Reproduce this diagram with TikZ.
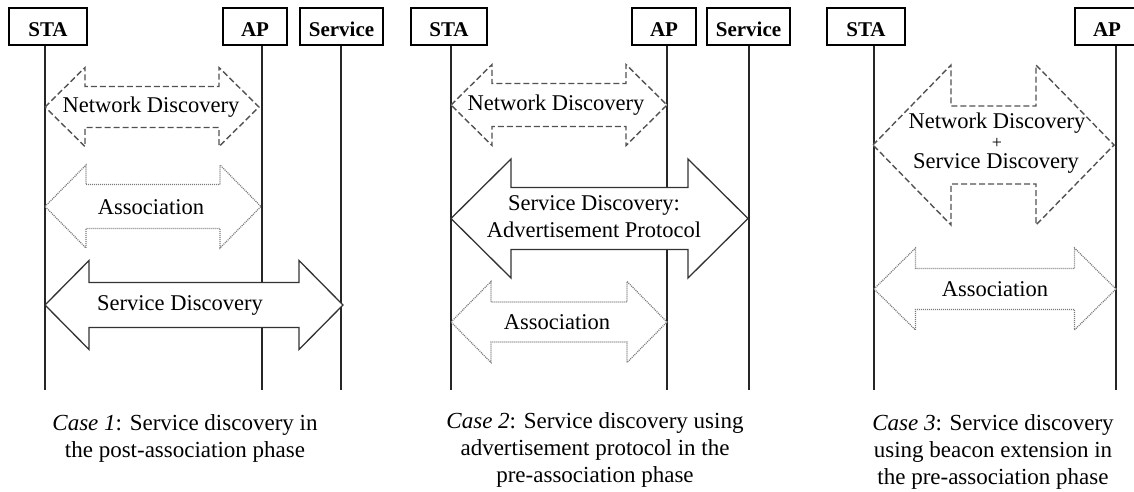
\documentclass[tikz,border=0pt]{standalone}
\usepackage{fontspec}
\setmainfont{Liberation Serif}
\newcommand\dblarr[7]{%
  \draw[#7] (#1,#3) -- ({#1+#4},{#3-#5}) -- ({#1+#4},{#3-#6}) -- ({#2-#4},{#3-#6}) -- ({#2-#4},{#3-#5}) -- (#2,#3) -- ({#2-#4},{#3+#5}) -- ({#2-#4},{#3+#6}) -- ({#1+#4},{#3+#6}) -- ({#1+#4},{#3+#5}) -- cycle;}
\tikzset{
  hdr/.style={draw=black, line width=1.4pt, fill=white, minimum height=37pt, inner sep=0pt,
    font=\fontsize{21}{25}\bfseries\selectfont, text height=19pt, text depth=0pt},
  life/.style={draw=black!85, line width=1.3pt},
  ndarr/.style={draw=black!68, line width=1.4pt, dash pattern=on 6pt off 3pt, fill=white},
  asarr/.style={draw=black!52, line width=1.25pt, dash pattern=on 1pt off 1pt, fill=white},
  sdarr/.style={draw=black!80, line width=1.3pt, fill=white},
  lbl/.style={font=\fontsize{22.5}{27}\selectfont, inner sep=0pt},
  captxt/.style={font=\fontsize{23}{27}\selectfont, inner sep=0pt, align=center},
}
\begin{document}
\begin{tikzpicture}[x=1pt,y=-1pt]
\useasboundingbox (0,0) rectangle (1134,491);
\clip (0,0) rectangle (1134,491);
\fill[white] (0,0) rectangle (1134,491);
% ---------- Case 1 ----------
\coordinate (l1s) at (45,45);  \coordinate (l1se) at (45,390);
\coordinate (l1a) at (262,45); \coordinate (l1ae) at (262,390);
\coordinate (l1v) at (341,45); \coordinate (l1ve) at (341,390);
\draw[life] (l1s) -- (l1se);
\draw[life] (l1a) -- (l1ae);
\draw[life] (l1v) -- (l1ve);
\node[hdr, minimum width=78pt] (sta1) at (48,26.5) {STA};
\node[hdr, minimum width=64pt] (ap1) at (255,26.5) {AP};
\node[hdr, minimum width=83pt] (srv1) at (341.5,26.5) {Service};
\dblarr{45}{259}{107}{40}{39.5}{20.5}{ndarr}
\dblarr{45}{261}{206.5}{41}{41.5}{22}{asarr}
\dblarr{45}{343}{305}{44}{44.5}{22.5}{sdarr}
\node[lbl] (nd1) at (151,107) {Network Discovery};
\node[lbl] (as1) at (151,207) {Association};
\node[lbl] (sd1) at (180,305) {Service Discovery};
\node[captxt] (c1) at (185,438) {\textit{Case 1}: Service discovery in\\the post-association phase};
% ---------- Case 2 ----------
\coordinate (l2s) at (451,45);  \coordinate (l2se) at (451,390);
\coordinate (l2a) at (667,45);  \coordinate (l2ae) at (667,390);
\coordinate (l2v) at (749,45);  \coordinate (l2ve) at (749,390);
\draw[life] (l2s) -- (l2se);
\draw[life] (l2a) -- (l2ae);
\draw[life] (l2v) -- (l2ve);
\node[hdr, minimum width=76pt] (sta2) at (449,26.5) {STA};
\node[hdr, minimum width=64pt] (ap2) at (664,26.5) {AP};
\node[hdr, minimum width=83pt] (srv2) at (748.5,26.5) {Service};
\dblarr{451}{667}{105}{41}{40.5}{21.5}{ndarr}
\dblarr{451}{748}{218.5}{60}{59.5}{31}{sdarr}
\dblarr{451}{667}{322}{40}{40.5}{20}{asarr}
\node[lbl] (nd2) at (556,105) {Network Discovery};
\node[lbl, align=center] (sd2) at (594,217) {Service Discovery:\\Advertisement Protocol};
\node[lbl] (as2) at (557,322) {Association};
\node[captxt] (c2) at (595,450) {\textit{Case 2}: Service discovery using\\advertisement protocol in the\\pre-association phase};
% ---------- Case 3 ----------
\coordinate (l3s) at (874,45);  \coordinate (l3se) at (874,390);
\coordinate (l3a) at (1116,45); \coordinate (l3ae) at (1116,390);
\draw[life] (l3s) -- (l3se);
\draw[life] (l3a) -- (l3ae);
\node[hdr, minimum width=78pt] (sta3) at (866,26.5) {STA};
\node[hdr, minimum width=64pt] (ap3) at (1107,26.5) {AP};
\dblarr{873}{1114}{145}{78}{80}{39}{ndarr}
\dblarr{874}{1116}{289}{41.5}{41}{20.5}{asarr}
\node[lbl] (nd3) at (997,123) {Network Discovery};
\node[lbl, font=\fontsize{18}{20}\selectfont] (pl3) at (997,143) {+};
\node[lbl] (sd3) at (996,163) {Service Discovery};
\node[lbl] (as3) at (995,289) {Association};
\node[captxt] (c3) at (993,452) {\textit{Case 3}: Service discovery\\using beacon extension in\\the pre-association phase};
\end{tikzpicture}
\end{document}
